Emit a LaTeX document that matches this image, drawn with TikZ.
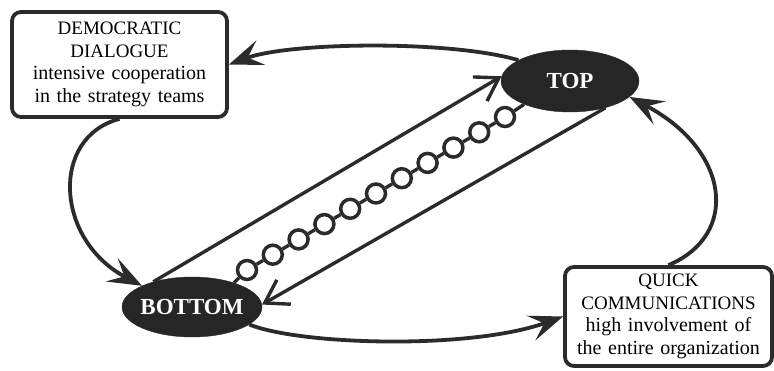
\documentclass[tikz,border=0pt]{standalone}
\usepackage{fontspec}
\setmainfont{Liberation Serif}
\usetikzlibrary{shapes.geometric,arrows.meta,calc}

\definecolor{ink}{HTML}{2B2B2B}
\definecolor{blob}{HTML}{262626}

\begin{document}
\begin{tikzpicture}[x=1pt,y=1pt,
  infobox/.style={draw=ink, line width=3.8pt, rounded corners=9pt, inner sep=0pt,
    align=center, text width=205pt, font=\fontsize{20}{22.5}\selectfont},
  blobnode/.style={ellipse, fill=blob, draw=blob, inner sep=0pt,
    minimum width=140pt, minimum height=60pt, text=white,
    font=\fontsize{23}{25}\selectfont\bfseries},
  ring/.style={circle, draw=ink, line width=3.5pt, minimum size=19pt, inner sep=0pt},
  cyclearc/.style={draw=ink, line width=3.8pt, -{Stealth[length=34pt,width=26pt,inset=14pt]}},
  crossarrow/.style={draw=ink, line width=3.4pt, -{Straight Barb[length=22pt,width=28pt]}},
  chainlink/.style={draw=ink, line width=3.4pt}]

\useasboundingbox (0,0) rectangle (774,-371);

% the two text boxes
\node[infobox, minimum width=215pt, minimum height=105pt] (b1) at (119.5,-64.5)
  {{\fontsize{19}{22.5}\selectfont DEMOCRATIC}\\
   {\fontsize{19}{22.5}\selectfont DIALOGUE}\\
   intensive cooperation\\
   in the strategy teams};
\node[infobox, minimum width=207pt, minimum height=99pt] (b2) at (668.5,-316.5)
  {{\fontsize{19}{22.5}\selectfont QUICK}\\
   {\fontsize{19}{22.5}\selectfont COMMUNICATIONS}\\
   high involvement of\\
   the entire organization};

% the two poles
\node[blobnode, minimum width=138pt, minimum height=62pt] (top) at (570,-81) {\makebox[0pt]{TOP}};
\node[blobnode] (bot) at (192,-307) {\makebox[0pt]{BOTTOM}};

% outer cycle
\draw[cyclearc] (top.158) .. controls (450,-40) and (290,-42) .. (b1.east);
\draw[cyclearc] (b1.south) .. controls (50,-137) and (55,-240) .. (bot.157);
\draw[cyclearc] (bot.-17) .. controls (300,-345) and (470,-350) .. (b2.west);
\draw[cyclearc] (b2.north) .. controls (740,-235) and (730,-150) .. (top.-15);

% direct links between the poles
\draw[crossarrow] (bot.147) -- (top.176);
\draw[crossarrow] (top.-37) -- (bot.2);

% chain of rings
\coordinate (chainA) at (247,-270);
\coordinate (chainB) at (505,-117);
\foreach \i in {0,...,10}
  \node[ring] (ring\i) at ($(chainA)!\i/10!(chainB)$) {};
\draw[chainlink] (bot.30) -- (ring0);
\foreach \i [evaluate=\i as \j using int(\i+1)] in {0,...,9}
  \draw[chainlink] (ring\i) -- (ring\j);
\draw[chainlink] (ring10) -- (top.207);

\end{tikzpicture}
\end{document}
